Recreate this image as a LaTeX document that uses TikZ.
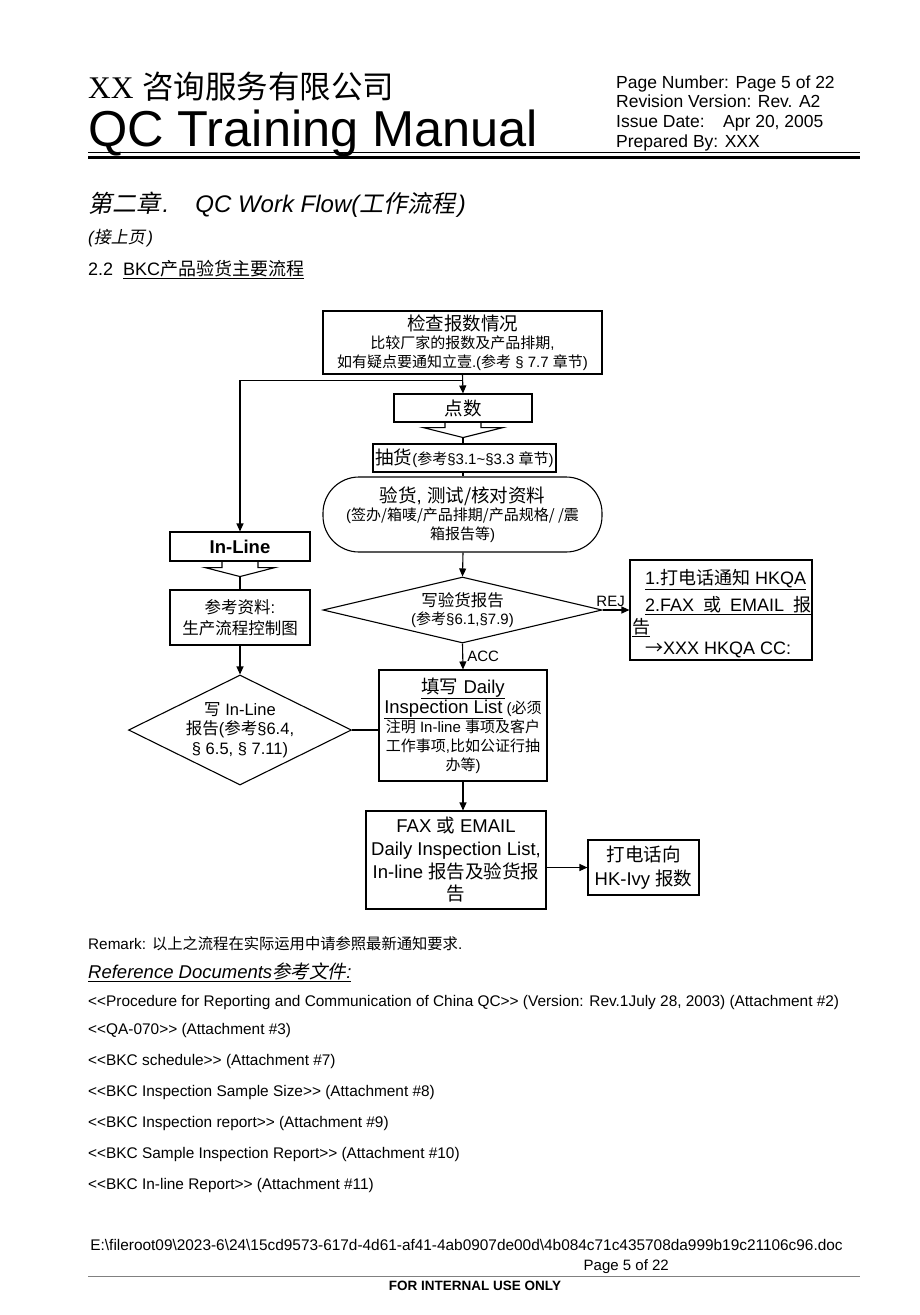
\documentclass[tikz,border=0pt]{standalone}
\usepackage{fontspec}
\setmainfont{Liberation Sans}
\newfontfamily\cjk{Noto Sans CJK SC}
\newfontfamily\cjki{Noto Sans CJK SC}[FakeSlant=0.2]
\newfontfamily\serifx{Liberation Serif}
\usetikzlibrary{shapes.geometric,arrows.meta,calc}
\newcommand\zh[1]{{\cjk #1}}
\newcommand\zhi[1]{{\cjki #1}\kern2.5pt}
\newcommand\fs[2]{\fontsize{#1}{#2}\selectfont}
\newcommand\llt{<\kern0pt<}
\newcommand\ggt{>\kern0pt>}
\begin{document}
\begin{tikzpicture}[x=1pt,y=-1pt,
  box/.style={draw, line width=1.1pt, inner sep=0pt, align=center},
  diam/.style={draw, diamond, line width=1.1pt, inner sep=0pt},
  conn/.style={line width=1.1pt},
  arr/.style={conn, -{Triangle[length=8pt,width=7pt]}},
  txt/.style={inner sep=0pt, anchor=base west},
  ctxt/.style={inner sep=0pt, align=center},
]
\useasboundingbox[fill=white] (0,0) rectangle (920,1315);

% ---------- header ----------
\node[txt] (h1) at (88,98) {\fs{31.5}{34}{\serifx XX} \zh{咨询服务有限公司}};
\node[txt] (h2) at (88,146) {\fs{50.5}{52}QC Training Manual};
\node[txt] (r1) at (616,88) {\fs{17.5}{20}Page Number: Page 5 of 22};
\node[txt] (r2) at (616,107) {\fs{17.5}{20}Revision Version: Rev. A2};
\node[txt] (r3) at (616,127) {\fs{17.5}{20}Issue Date:\hspace{12pt} Apr 20, 2005};
\node[txt] (r4) at (616,147) {\fs{17.5}{20}Prepared By: XXX};
\draw[line width=0.9pt] (88,152) -- (860,152);
\draw[line width=3pt] (88,157) -- (860,157);

\node[txt] (c1) at (88,212) {\fs{24}{26}\itshape\zhi{第二章}.\hspace{26pt}QC Work Flow(\zhi{工作流程})};
\node[txt] (c2) at (88,243) {\fs{17}{20}\itshape(\zhi{接上页})};
\node[txt] (c3) at (88,275) {\fs{18}{20}2.2\hspace{10pt}\underline{BKC\zh{产品验货主要流程}}};

% ---------- flowchart ----------
\node[box, font=\fs{15}{18.5}, minimum width=279pt, minimum height=63pt] (n1) at (462.5,342.5)
  {{\fs{18.5}{21}\zh{检查报数情况}}\\\zh{比较厂家的报数及产品排期},\\\zh{如有疑点要通知立壹}.(\zh{参考} § 7.7 \zh{章节})};
\node[box, font=\fs{18.5}{21}, minimum width=138pt, minimum height=28pt] (n2) at (463,408) {\zh{点数}};
\draw[conn] ($(n2.south)+(-18,0)$) -- ++(0,5) -- ++(-22,0) -- ++(40,10) coordinate (t2) -- ++(40,-10) -- ++(-22,0) -- ++(0,-5);
\node[box, font=\fs{15}{18}, minimum width=183pt, minimum height=28pt] (n3) at (464.5,458)
  {{\fs{18.5}{21}\zh{抽货}}(\zh{参考}§3.1\textasciitilde§3.3 \zh{章节})};
\node[box, font=\fs{15}{18.5}, rounded corners=36pt, minimum width=279pt, minimum height=75pt] (n4) at (462.5,514.5)
  {{\fs{18.5}{21}\zh{验货}, \zh{测试/核对资料}}\\(\zh{签办/箱唛/产品排期/产品规格/ /震}\\\zh{箱报告等})};
\node[diam, minimum width=279pt, minimum height=66pt] (n5) at (462.5,610) {};
\node[ctxt, font=\fs{15}{18}] (n5t) at (n5.center) {{\fs{16.5}{19}\zh{写验货报告}}\\(\zh{参考}§6.1,§7.9)};
\node[box, minimum width=182pt, minimum height=100pt] (n6) at (721,610) {};
\node[txt, font=\fs{18}{21}] (n6a) at (645,584) {\underline{1.\zh{打电话通知} HKQA}};
\node[txt, font=\fs{18}{21}] (n6b) at (645,611) {\underline{\hbox to 166pt{2.FAX\hfil\zh{或}\hfil EMAIL\hfil\zh{报}}}};
\node[txt, font=\fs{18}{21}] (n6c) at (632,633) {\underline{\zh{告}}};
\node[txt, font=\fs{18}{21}] (n6d) at (645,654) {\zh{→}XXX HKQA CC:};
\node[box, font=\fs{15}{19}, minimum width=168pt, minimum height=111pt] (n7) at (463,725.5)
  {{\fs{18.5}{22}\underline{\zh{填写} Daily}}\\{\fs{18.5}{22}\underline{Inspection List}} (\zh{必须}\\\zh{注明} In-line \zh{事项及客户}\\\zh{工作事项},\zh{比如公证行抽}\\\zh{办等})};
\node[box, font=\fs{18.5}{22.7}, minimum width=180pt, minimum height=98pt] (n8) at (456,860)
  {FAX \zh{或} EMAIL\\Daily Inspection List,\\In-line \zh{报告及验货报}\\\zh{告}};
\node[box, font=\fs{18.5}{24}, minimum width=111pt, minimum height=55pt] (n9) at (643.5,867.5)
  {\zh{打电话向}\\HK-Ivy \zh{报数}};

\node[box, font=\fs{18.5}{21}\bfseries, minimum width=140pt, minimum height=29pt] (n10) at (240,546.5) {In-Line};
\draw[conn] ($(n10.south)+(-18,0)$) -- ++(0,6) -- ++(-17,0) -- ++(35,9) coordinate (t10) -- ++(35,-9) -- ++(-17,0) -- ++(0,-6);
\node[box, font=\fs{16.5}{21}, minimum width=140pt, minimum height=55pt] (n11) at (240,617.5)
  {\zh{参考资料}:\\\zh{生产流程控制图}};
\node[diam, minimum width=223pt, minimum height=110pt] (n12) at (240,730) {};
\node[ctxt, font=\fs{16.5}{19.5}] (n12t) at (n12.center) {\zh{写} In-Line\\\zh{报告}(\zh{参考}§6.4,\\§ 6.5, § 7.11)};

% ---------- connectors ----------
\coordinate (b1) at ($(n1.south)+(0,6)$);
\draw[arr] (n1.south) -- (n2.north);
\draw[arr] (b1) -| (n10.north);
\draw[conn] (t2) -- (t2 |- n3.north);
\draw[conn] (n3.south -| t2) -- (n4.north -| t2);
\draw[arr] (n4.south -| t2) -- (n5.north);
\draw[arr] (n5.east) -- (n6.west) node[pos=0.3, above=3pt, inner sep=0pt] (rej) {\fs{15}{18}REJ};
\draw[arr] (n5.south) -- (n7.north) node[midway, right=4pt, inner sep=0pt] (acc) {\fs{15}{18}ACC};
\draw[arr] (n7.south) -- (n7.south |- n8.north);
\draw[arr] (n9.west -| n8.east) -- (n9.west);
\draw[conn] (t10) -- (n11.north);
\draw[arr] (n11.south) -- (n12.north);
\draw[conn] (n12.east) -- (n12.east -| n7.west);

% ---------- remarks & references ----------
\node[txt, font=\fs{15.3}{18}] (m1) at (88,949) {Remark:\hspace{6pt}\zh{以上之流程在实际运用中请参照最新通知要求}.};
\node[txt, font=\fs{18.5}{21}] (m2) at (88,978) {\underline{\itshape Reference Documents{\cjki 参考文件}:}};
\node[txt, font=\fs{15.4}{18}] (f1) at (88,1006) {\llt Procedure for Reporting and Communication of China QC\ggt{} (Version: Rev.1July 28, 2003) (Attachment \#2)};
\node[txt, font=\fs{15.4}{18}] (f2) at (88,1034) {\llt QA-070\ggt{} (Attachment \#3)};
\node[txt, font=\fs{15.4}{18}] (f3) at (88,1065) {\llt BKC schedule\ggt{} (Attachment \#7)};
\node[txt, font=\fs{15.4}{18}] (f4) at (88,1096) {\llt BKC Inspection Sample Size\ggt{} (Attachment \#8)};
\node[txt, font=\fs{15.4}{18}] (f5) at (88,1127) {\llt BKC Inspection report\ggt{} (Attachment \#9)};
\node[txt, font=\fs{15.4}{18}] (f6) at (88,1158) {\llt BKC Sample Inspection Report\ggt{} (Attachment \#10)};
\node[txt, font=\fs{15.4}{18}] (f7) at (88,1189) {\llt BKC In-line Report\ggt{} (Attachment \#11)};

% ---------- footer ----------
\node[inner sep=0pt, anchor=base east, font=\fs{15.4}{18}] (p1) at (843,1250) {E:\textbackslash fileroot09\textbackslash 2023-6\textbackslash 24\textbackslash 15cd9573-617d-4d61-af41-4ab0907de00d\textbackslash 4b084c71c435708da999b19c21106c96.doc};
\node[inner sep=0pt, anchor=base east, font=\fs{15}{18}] (p2) at (669,1270) {Page 5 of 22};
\draw[line width=0.8pt, gray] (88,1276) -- (860,1276);
\node[inner sep=0pt, font=\fs{13.5}{16}\bfseries] (p3) at (475,1286) {FOR INTERNAL USE ONLY};
\end{tikzpicture}
\end{document}
